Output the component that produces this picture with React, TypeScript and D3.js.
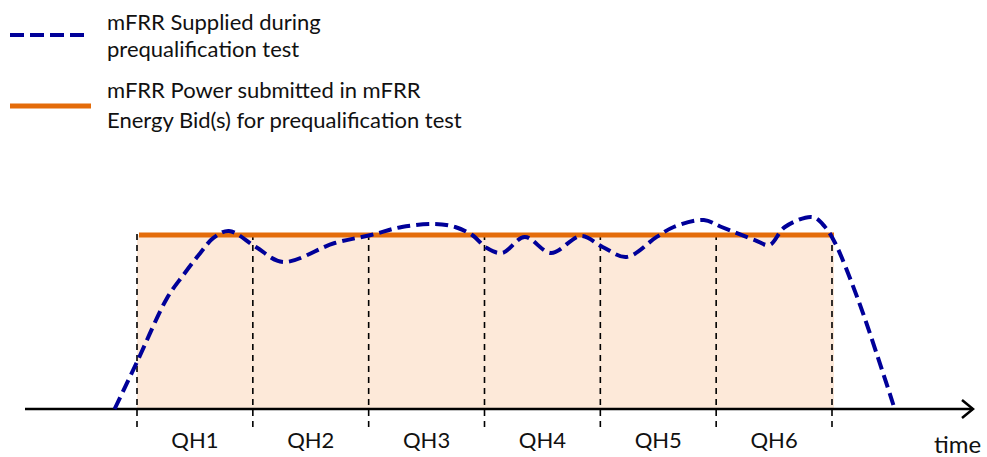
import React from "react";
import * as d3 from "d3";

// Quarter-hour boundaries (minutes from test start)
const qhBounds = [0, 15, 30, 45, 60, 75, 90];
const qhLabels = ["QH1", "QH2", "QH3", "QH4", "QH5", "QH6"];
// Bid power (normalised, %)
const bidLevel = 100;
// Supplied mFRR (minutes, % of bid)
const suppliedT = [-2.9, 0, 3.9, 6.0, 8.2, 9.9, 11.9, 15.4, 18.9, 25.6, 30.3, 34.3, 38.6, 41.2, 43.4, 45.3, 47.3, 50.2, 53.6, 57.5, 60.3, 63.4, 67.3, 69.5, 73.4, 75.7, 80.0, 81.9, 83.9, 87.5, 89.1, 90.4, 93.4, 96.9, 97.95];
const suppliedP = [0, 27.0, 63.8, 77.0, 89.7, 98.3, 102.3, 93.1, 84.5, 95.4, 100, 104.6, 106.3, 104.6, 100, 92.5, 89.7, 98.9, 89.7, 99.4, 93.1, 87.4, 98.9, 104.6, 108.6, 104.6, 97.1, 94.3, 104.6, 110.3, 104.6, 95.4, 62.6, 16.7, 2.3];
const legendLabels = [
  ["mFRR Supplied during", "prequalification test"],
  ["mFRR Power submitted in mFRR", "Energy Bid(s) for prequalification test"],
];
const axisLabel = "time";

const W = 987;
const H = 457;
const FONT = "Lato, 'Open Sans', sans-serif";

export default function App() {
  const x = d3.scaleLinear().domain([0, 90]).range([137, 832]);
  const y = d3.scaleLinear().domain([0, bidLevel]).range([409, 235]);
  const axisStart = x.invert(25);
  const axisEnd = x.invert(973);

  const pts: [number, number][] = suppliedT.map((t, i) => [t, suppliedP[i]]);
  const line = d3
    .line<[number, number]>()
    .x((d) => x(d[0]))
    .y((d) => y(d[1]))
    .curve(d3.curveCatmullRom.alpha(0.5));

  const blue = "#000099";
  const orange = "#E46C0A";
  const fill = "#FDE9D9";
  const textColor = "#111";

  return (
    <svg
      width={W}
      height={H}
      style={{ position: "fixed", left: 0, top: 0, background: "#fff" }}
      fontFamily={FONT}
    >
      {/* filled bid area */}
      <rect
        x={x(qhBounds[0])}
        y={y(bidLevel)}
        width={x(qhBounds[qhBounds.length - 1]) - x(qhBounds[0]) + 2}
        height={y(0) - y(bidLevel)}
        fill={fill}
      />
      {/* QH dividers */}
      {qhBounds.map((b) => (
        <line
          key={b}
          x1={x(b)}
          x2={x(b)}
          y1={y(bidLevel) - 1}
          y2={428}
          stroke="#000"
          strokeWidth={1.6}
          strokeDasharray="6 5"
        />
      ))}
      {/* bid line */}
      <line
        x1={x(qhBounds[0]) + 2}
        x2={x(qhBounds[qhBounds.length - 1]) + 2}
        y1={y(bidLevel)}
        y2={y(bidLevel)}
        stroke={orange}
        strokeWidth={5}
      />
      {/* time axis */}
      <line x1={x(axisStart)} x2={x(axisEnd)} y1={y(0)} y2={y(0)} stroke="#000" strokeWidth={2.5} />
      <path
        d={`M${x(axisEnd) - 11},${y(0) - 9} L${x(axisEnd)},${y(0)} L${x(axisEnd) - 11},${y(0) + 9}`}
        fill="none"
        stroke="#000"
        strokeWidth={2.5}
      />
      {/* supplied curve */}
      <path d={line(pts) || ""} fill="none" stroke={blue} strokeWidth={4} strokeDasharray="13 6" />
      {/* QH labels */}
      {qhLabels.map((l, i) => (
        <text
          key={l}
          x={(x(qhBounds[i]) + x(qhBounds[i + 1])) / 2}
          y={448}
          textAnchor="middle"
          fontSize={22}
          fill={textColor}
        >
          {l}
        </text>
      ))}
      <text x={934} y={453} fontSize={24} fill={textColor}>
        {axisLabel}
      </text>
      {/* legend */}
      <line x1={10} x2={88} y1={35} y2={35} stroke={blue} strokeWidth={4} strokeDasharray="14 6" />
      <text x={107} y={30} fontSize={22} fill={textColor}>{legendLabels[0][0]}</text>
      <text x={107} y={57} fontSize={22} fill={textColor}>{legendLabels[0][1]}</text>
      <line x1={10} x2={91} y1={106} y2={106} stroke={orange} strokeWidth={5} />
      <text x={107} y={98} fontSize={22} fill={textColor}>{legendLabels[1][0]}</text>
      <text x={107} y={128} fontSize={22} fill={textColor}>{legendLabels[1][1]}</text>
    </svg>
  );
}
